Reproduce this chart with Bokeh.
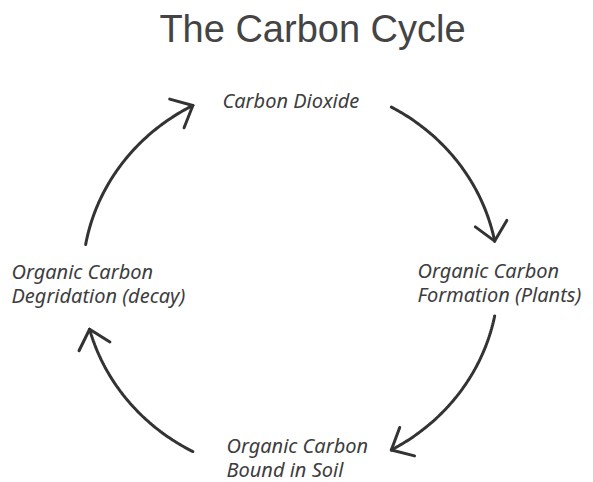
import numpy as np
from bokeh.plotting import figure
from bokeh.models import Range1d, ColumnDataSource
from bokeh.core.properties import value
from bokeh.embed import file_html
from bokeh.resources import INLINE

# ---- content ----
title_text = "The Carbon Cycle"
stage_names = ["Carbon Dioxide",
               "Organic Carbon\nFormation (Plants)",
               "Organic Carbon\nBound in Soil",
               "Organic Carbon\nDegridation (decay)"]
# label anchor (left edge, first-line middle) in picture pixels
label_x = [222, 417, 226, 11]
label_y = [100, 270, 445, 271]
line_gap = 24

# cycle ellipse (picture pixels) and arrow arcs (degrees, travelling clockwise)
cycle_cx, cycle_cy = 290, 278
cycle_a, cycle_b = 208, 196
arc_start_deg = [61, -11, -118, 170]
arc_end_deg = [11, -61, -165, 118]
head_len = 24
head_angle_deg = 42

INK = "#333333"
TEXT = "#3d3d3d"

W, H = 593, 482
p = figure(width=W, height=H, output_backend="svg", toolbar_location=None,
           x_range=Range1d(0, W), y_range=Range1d(H, 0),
           min_border=0, outline_line_color=None)
p.axis.visible = False
p.grid.visible = False
p.background_fill_color = "white"
p.border_fill_color = "white"

# arrows
xs, ys, hx, hy = [], [], [], []
for s, e in zip(arc_start_deg, arc_end_deg):
    t = np.radians(np.linspace(s, e, 80))
    x = cycle_cx + cycle_a * np.cos(t)
    y = cycle_cy - cycle_b * np.sin(t)
    xs.append(list(x)); ys.append(list(y))
    te = np.radians(e)
    d = np.array([cycle_a * np.sin(te), cycle_b * np.cos(te)])
    d = d / np.hypot(*d)
    tip = np.array([x[-1], y[-1]])
    for sg in (1, -1):
        ang = np.radians(head_angle_deg) * sg
        rot = np.array([[np.cos(ang), -np.sin(ang)], [np.sin(ang), np.cos(ang)]])
        back = tip - head_len * (rot @ d)
        hx.append([back[0], tip[0]]); hy.append([back[1], tip[1]])

p.multi_line(xs, ys, line_color=INK, line_width=3, line_cap="round")
p.multi_line(hx, hy, line_color=INK, line_width=3, line_cap="round", line_join="round")

# labels
tx, ty, tt = [], [], []
for name, x0, y0 in zip(stage_names, label_x, label_y):
    for i, ln in enumerate(name.split("\n")):
        tx.append(x0); ty.append(y0 + i * line_gap); tt.append(ln)
src = ColumnDataSource(dict(x=tx, y=ty, text=tt))
p.text(x="x", y="y", text="text", source=src, text_font=value("Noto Sans"),
       text_font_style="italic", text_font_size="20px", text_color=TEXT,
       text_align="left", text_baseline="middle")

# title
p.text(x=[312], y=[28], text=[title_text], text_font=value("Liberation Sans"),
       text_font_size="38px", text_color="#444444", text_align="center",
       text_baseline="middle")

open("out.html", "w").write(file_html(p, INLINE))
